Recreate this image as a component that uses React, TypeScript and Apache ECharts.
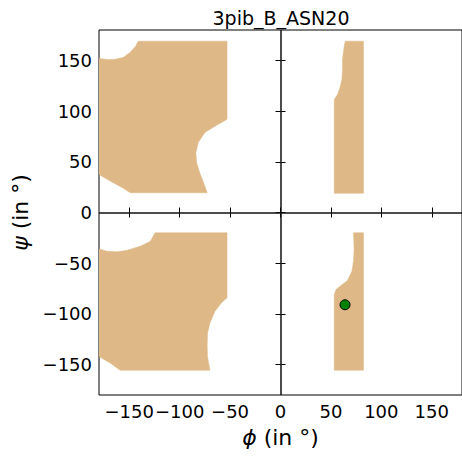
import React, { useEffect, useRef } from "react";
import * as echarts from "echarts";

// Allowed (shaded) regions, [phi, psi] in degrees
const regionTopLeft: number[][] = [
  [-180, 152], [-172, 151], [-165, 151], [-156, 153], [-149, 158], [-144, 163.5], [-141, 169],
  [-53, 169], [-53, 92], [-58, 89], [-63.5, 86], [-75, 79], [-81.6, 69], [-83.9, 59],
  [-83.2, 49], [-80, 39], [-75, 26], [-72.7, 19.5],
  [-149, 19.5], [-156, 24], [-169, 31], [-180, 37.5],
];
const regionTopRight: number[][] = [
  [53.3, 19], [82.3, 19], [82.3, 169], [64.2, 169], [63.2, 164], [61.5, 151], [61.5, 141],
  [60.9, 131], [58.9, 123], [56.6, 116.5], [53.3, 111.5],
];
const regionBottomLeft: number[][] = [
  [-124.4, -20], [-53, -20], [-53, -84], [-58.5, -89], [-65, -97.4], [-70, -109],
  [-72.4, -119], [-72.7, -132], [-72.4, -142], [-70, -155.6], [-159, -155.6],
  [-169, -148.4], [-180, -142], [-180, -36], [-172, -38.2], [-162, -38.8], [-152, -37.2],
  [-139, -33.2], [-129, -28.3],
];
const regionBottomRight: number[][] = [
  [72.4, -20], [82.3, -20], [82.3, -155.6], [53.3, -155.6], [53.3, -81], [55, -76],
  [60, -72], [66.4, -67], [70.8, -58], [72.4, -48], [73, -36.5],
];
const regions = [regionTopLeft, regionTopRight, regionBottomLeft, regionBottomRight];

// Observed residue (phi, psi)
const residuePoints: number[][] = [[64, -91]];

const tickValues = [-150, -100, -50, 0, 50, 100, 150];
const titleText = "3pib_B_ASN20";

const FONT = "DejaVu Sans";
const fmt = (v: number) => (v < 0 ? "\u2212" + Math.abs(v) : String(v));

export default function App() {
  const ref = useRef<HTMLDivElement>(null);
  useEffect(() => {
    if (!ref.current) return;
    const chart = echarts.init(ref.current, null, { renderer: "svg" });
    const mainX = {
      type: "value",
      min: -180,
      max: 180,
      position: "bottom",
      axisLine: { show: false },
      splitLine: { show: false },
      axisTick: { inside: true, length: 5, customValues: tickValues, lineStyle: { color: "#000" } },
      axisLabel: { customValues: tickValues, formatter: fmt, fontSize: 18, fontFamily: FONT, color: "#000", margin: 7 },
      name: "{m|\u03d5} (in \u00b0)",
      nameLocation: "middle",
      nameGap: 31,
      nameTextStyle: {
        fontSize: 22, fontFamily: FONT, color: "#000",
        rich: { m: { fontSize: 22, fontFamily: FONT, fontStyle: "italic", color: "#000" } },
      },
    };
    const topX = {
      type: "value", min: -180, max: 180, position: "top",
      axisLine: { show: false }, splitLine: { show: false },
      axisTick: { inside: true, length: 5, customValues: tickValues, lineStyle: { color: "#000" } },
      axisLabel: { show: false },
    };
    const mainY = {
      type: "value", min: -180, max: 180, position: "left",
      axisLine: { show: false }, splitLine: { show: false },
      axisTick: { inside: true, length: 5, customValues: tickValues, lineStyle: { color: "#000" } },
      axisLabel: { customValues: tickValues, formatter: fmt, fontSize: 18, fontFamily: FONT, color: "#000", margin: 7 },
      name: "{m|\u03c8} (in \u00b0)",
      nameLocation: "middle",
      nameGap: 67,
      nameTextStyle: {
        fontSize: 22, fontFamily: FONT, color: "#000",
        rich: { m: { fontSize: 22, fontFamily: FONT, fontStyle: "italic", color: "#000" } },
      },
    };
    const rightY = {
      type: "value", min: -180, max: 180, position: "right",
      axisLine: { show: false }, splitLine: { show: false },
      axisTick: { inside: true, length: 5, customValues: tickValues, lineStyle: { color: "#000" } },
      axisLabel: { show: false },
    };
    chart.setOption({
      animation: false,
      backgroundColor: "#fff",
      grid: { left: 99, top: 30, width: 364, height: 365, show: true, borderColor: "#000", borderWidth: 1, backgroundColor: "transparent" },
      xAxis: [mainX, topX],
      yAxis: [mainY, rightY],
      graphic: [
        {
          type: "text", x: 281, y: 18,
          style: { text: titleText, fontSize: 19, fontFamily: FONT, fill: "#000", align: "center", verticalAlign: "middle" },
        },
      ],
      series: [
        {
          type: "custom",
          xAxisIndex: 0, yAxisIndex: 0,
          clip: true,
          data: regions.map((_, i) => [i]),
          renderItem: (params: any, api: any) => {
            const poly = regions[params.dataIndex];
            return {
              type: "polygon",
              shape: { points: poly.map((p) => api.coord(p)) },
              style: { fill: "#DEB887", stroke: "#DEB887", lineWidth: 0.5 },
            };
          },
          z: 1,
        },
        {
          type: "scatter",
          xAxisIndex: 0, yAxisIndex: 0,
          data: residuePoints,
          symbolSize: 10,
          itemStyle: { color: "#008000", borderColor: "#000", borderWidth: 1, opacity: 1 },
          z: 5,
          markLine: {
            silent: true,
            symbol: "none",
            label: { show: false },
            lineStyle: { color: "#111", width: 1.5, type: "solid" },
            data: [{ xAxis: 0 }, { yAxis: 0 }],
          },
        },
      ],
    });
    return () => chart.dispose();
  }, []);
  return (
    <div style={{ position: "fixed", left: 0, top: 0, width: 462, height: 459, overflow: "hidden", background: "#fff" }}>
      <div ref={ref} style={{ width: 462, height: 459 }} />
    </div>
  );
}
